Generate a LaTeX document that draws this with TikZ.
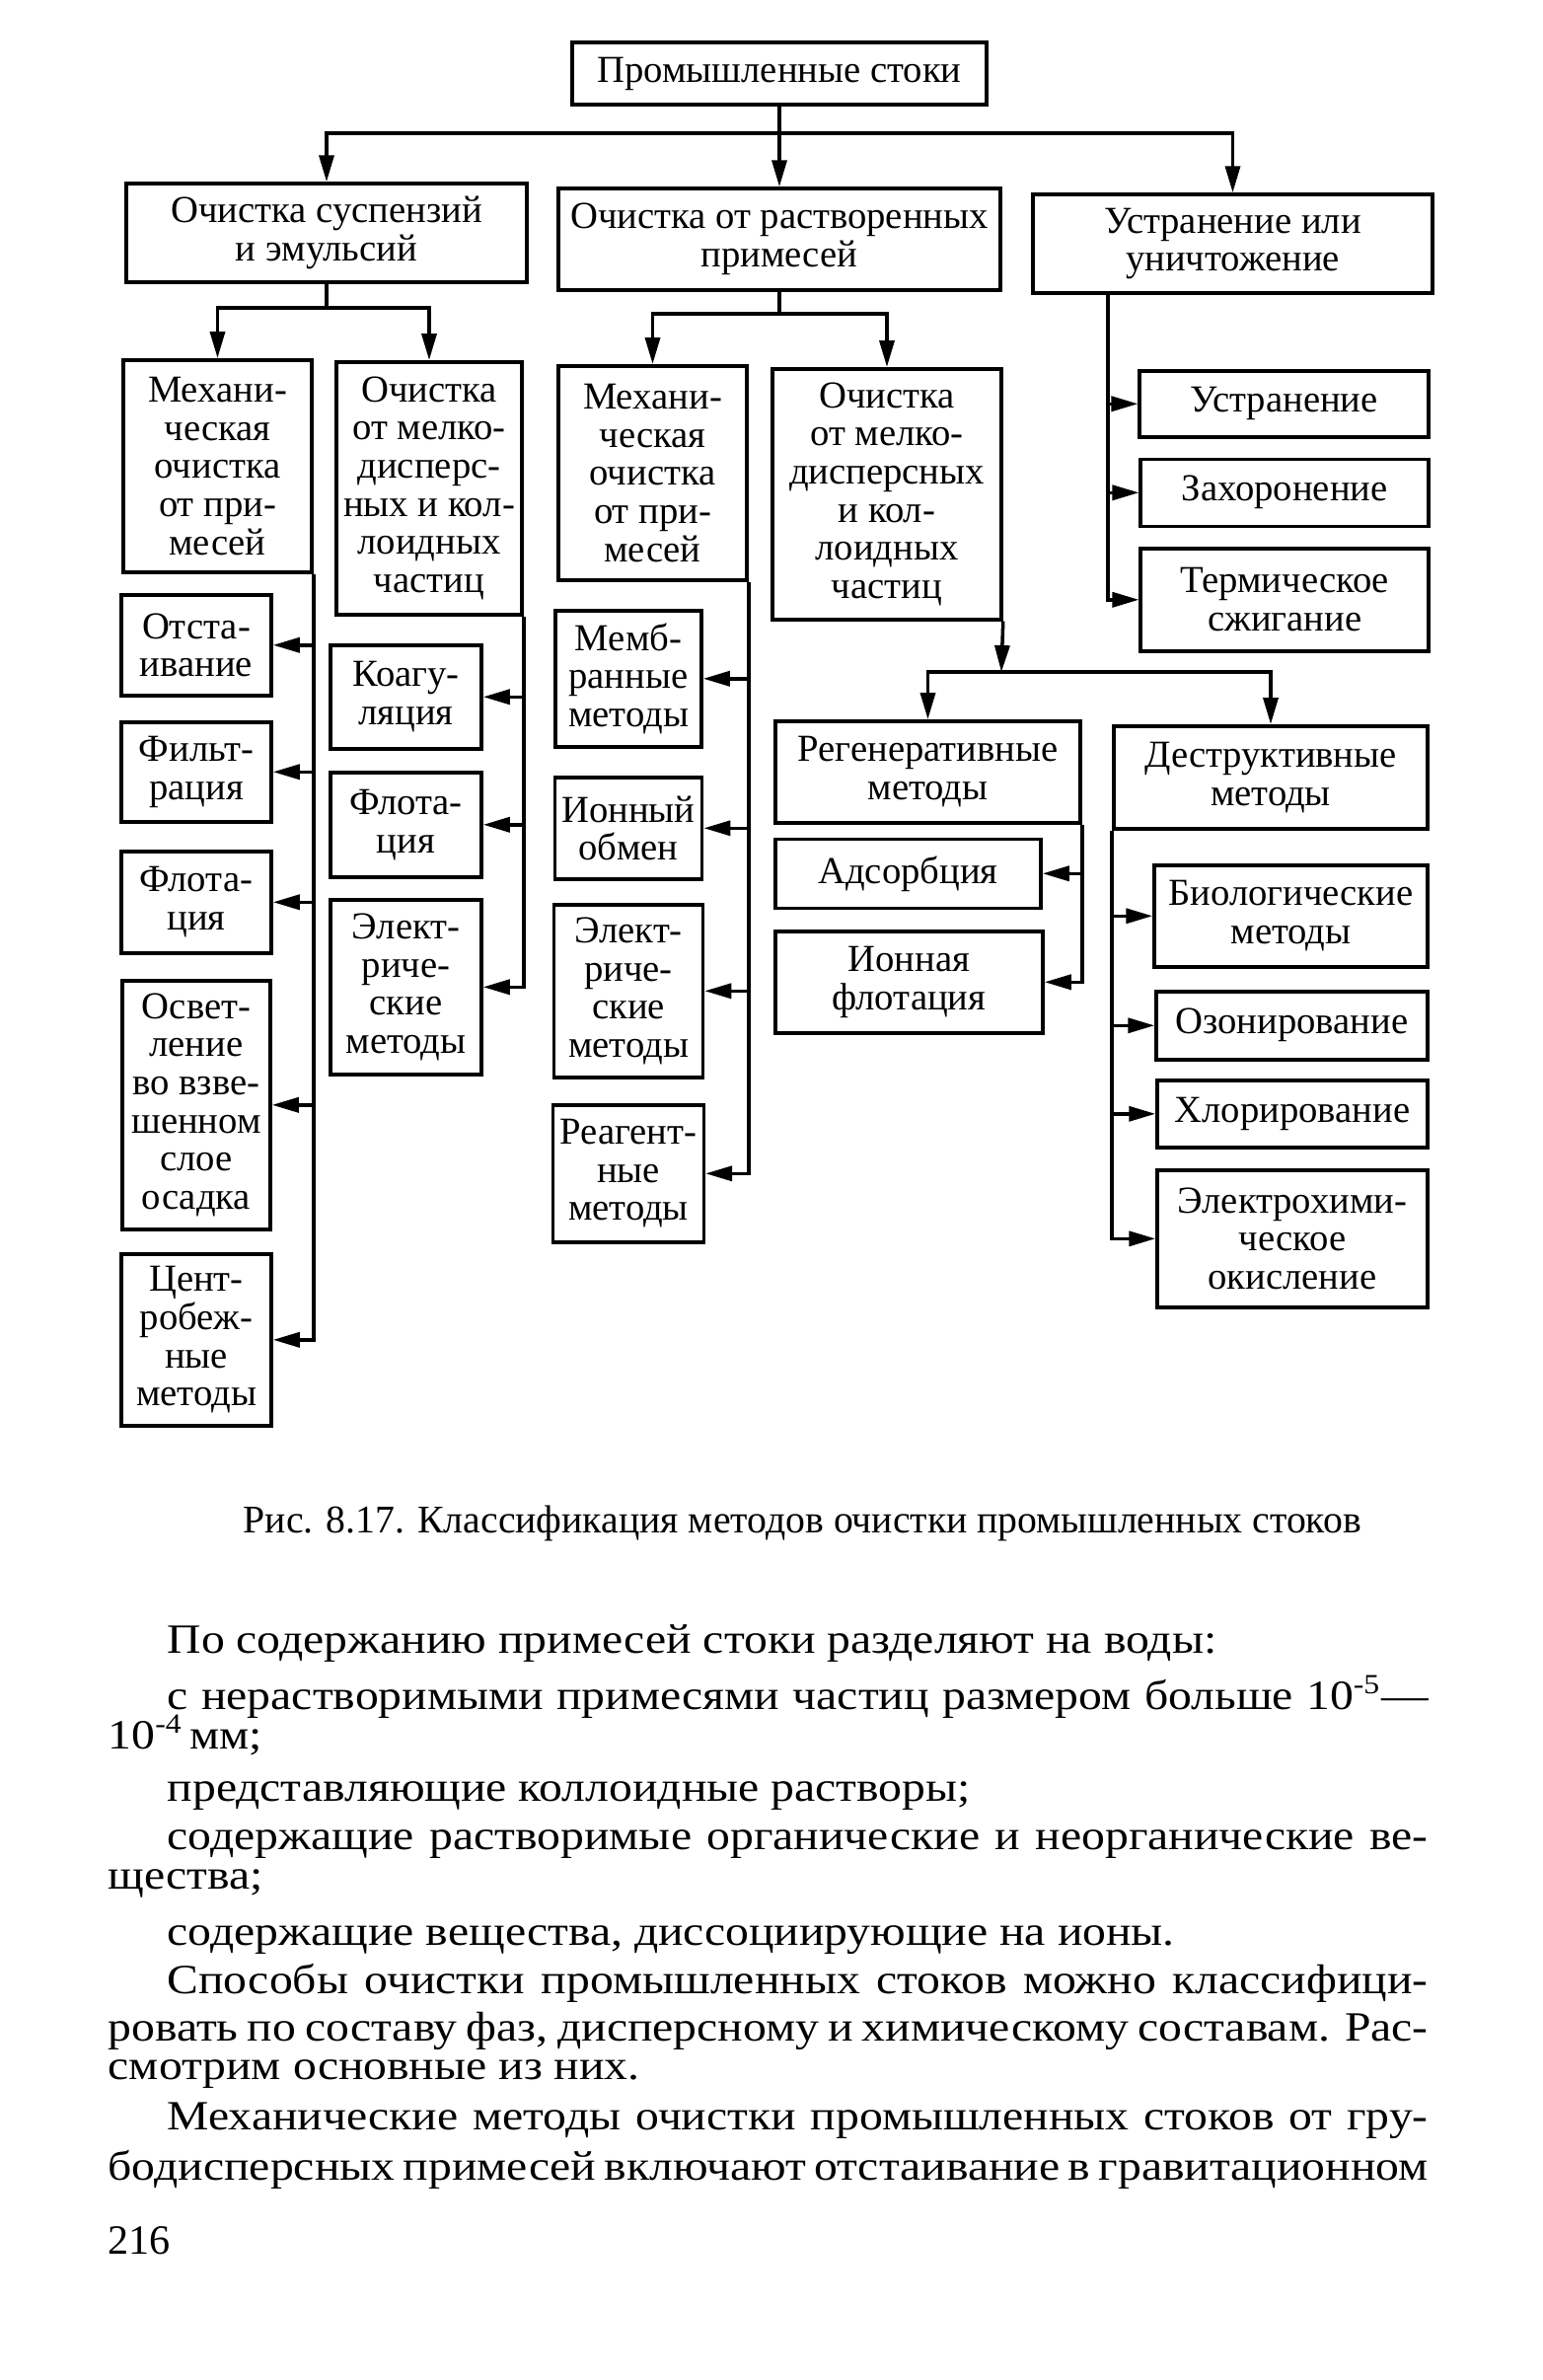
\documentclass[tikz,border=0pt]{standalone}
\usepackage{fontspec}
\setmainfont{Liberation Serif}
\newfontfamily\widefam{Liberation Serif}[FakeStretch=1.13]
\usetikzlibrary{positioning,arrows.meta}
\newcommand{\diagfont}{\fontsize{11}{11}\selectfont}
\newcommand{\capfont}{\fontsize{11.3}{13}\selectfont}
\newcommand{\bodyfont}{\widefam\fontsize{12}{14}\selectfont}
\newcommand{\fline}[1]{\makebox[13.38cm][s]{#1}}
\newcommand{\iline}[1]{\makebox[12.78cm][s]{#1}}

\begin{document}
\begin{tikzpicture}[box/.style={draw,line width=1pt,align=center,inner xsep=2pt,inner ysep=1pt,font=\diagfont},
	link/.style={line width=1pt},
	txt/.style={anchor=base west,inner sep=0pt,font=\bodyfont},
	>={Triangle[length=2.7mm,width=1.5mm]}]
		\useasboundingbox (0,0) rectangle (15.64,-24.12);
		% top levels
		\node(top) [box,minimum width=4.2cm,minimum height=0.63cm] at (7.90,-0.745) {Промышленные стоки};
		\node(susp) [box,minimum width=4.06cm,minimum height=1.0cm] at (3.31,-2.36) {Очистка суспензий\\и эмульсий};
		\node(rastv) [box,minimum width=4.48cm,minimum height=1.03cm] at (7.90,-2.425) {Очистка от растворенных\\примесей};
		\node(ustr) [box,minimum width=4.05cm,minimum height=1.0cm] at (12.495,-2.47) {Устранение или\\уничтожение};

		\node(mechA) [box,anchor=north,minimum width=1.91cm,minimum height=2.15cm] at (2.205,-3.63) {Механи-\\ческая\\очистка\\от при-\\месей};
		\node(kollA) [box,anchor=north,minimum width=1.88cm,minimum height=2.56cm] at (4.35,-3.65) {Очистка\\от мелко-\\дисперс-\\ных и кол-\\лоидных\\частиц};
		\node(mechB) [box,anchor=north,minimum width=1.91cm,minimum height=2.17cm] at (6.615,-3.69) {Механи-\\ческая\\очистка\\от при-\\месей};
		\node(kollB) [box,anchor=north,minimum width=2.32cm,minimum height=2.54cm] at (8.99,-3.72) {Очистка\\от мелко-\\дисперсных\\и кол-\\лоидных\\частиц};

		% removal branch
		\node(ustr1) [box,anchor=north east,minimum width=2.93cm,minimum height=0.67cm] at (14.50,-3.74) {Устранение};
		\node(zahor) [box,below=0.19 of ustr1.south east,anchor=north east,minimum width=2.92cm,minimum height=0.68cm] {Захоронение};
		\node(term) [box,below=0.19 of zahor.south east,anchor=north east,minimum width=2.92cm,minimum height=1.04cm] {Термическое\\сжигание};

		% mechanical, suspensions
		\node(otst) [box,anchor=north,minimum width=1.52cm,minimum height=1.02cm] at (1.99,-6.01) {Отста-\\ивание};
		\node(filt) [box,below=0.235 of otst,minimum width=1.52cm,minimum height=1.01cm] {Фильт-\\рация};
		\node(flotA) [box,below=0.265 of filt,minimum width=1.52cm,minimum height=1.03cm] {Флота-\\ция};
		\node(osvet) [box,below=0.245 of flotA,minimum width=1.50cm,minimum height=2.52cm] {Освет-\\ление\\во взве-\\шенном\\слое\\осадка};
		\node(centr) [box,below=0.215 of osvet,minimum width=1.52cm,minimum height=1.74cm] {Цент-\\робеж-\\ные\\методы};

		% colloids, suspensions
		\node(koag) [box,anchor=north,minimum width=1.53cm,minimum height=1.05cm] at (4.115,-6.52) {Коагу-\\ляция};
		\node(flotB) [box,below=0.205 of koag,minimum width=1.53cm,minimum height=1.06cm] {Флота-\\ция};
		\node(elA) [box,below=0.195 of flotB,minimum width=1.53cm,minimum height=1.77cm] {Элект-\\риче-\\ские\\методы};

		% mechanical, dissolved
		\node(memb) [box,anchor=north,minimum width=1.48cm,minimum height=1.38cm] at (6.37,-6.17) {Мемб-\\ранные\\методы};
		\node(ion) [box,below=0.275 of memb,minimum width=1.49cm,minimum height=1.03cm] {Ионный\\обмен};
		\node(elB) [box,below=0.225 of ion,minimum width=1.51cm,minimum height=1.75cm] {Элект-\\риче-\\ские\\методы};
		\node(reag) [box,below=0.245 of elB,minimum width=1.51cm,minimum height=1.39cm] {Реагент-\\ные\\методы};

		% colloids, dissolved
		\node(regen) [box,anchor=north,minimum width=3.09cm,minimum height=1.03cm] at (9.405,-7.29) {Регенеративные\\методы};
		\node(adsorb) [box,below=0.13 of regen.south west,anchor=north west,minimum width=2.69cm,minimum height=0.70cm] {Адсорбция};
		\node(ionfl) [box,below=0.20 of adsorb.south west,anchor=north west,minimum width=2.71cm,minimum height=1.03cm] {Ионная\\флотация};
		\node(destr) [box,anchor=north,minimum width=3.18cm,minimum height=1.04cm] at (12.88,-7.34) {Деструктивные\\методы};
		\node(bio) [box,below=0.335 of destr.south east,anchor=north east,minimum width=2.77cm,minimum height=1.03cm] {Биологические\\методы};
		\node(ozon) [box,below=0.215 of bio.south east,anchor=north east,minimum width=2.75cm,minimum height=0.69cm] {Озонирование};
		\node(chlor) [box,below=0.175 of ozon.south east,anchor=north east,minimum width=2.74cm,minimum height=0.68cm] {Хлорирование};
		\node(echem) [box,below=0.195 of chlor.south east,anchor=north east,minimum width=2.74cm,minimum height=1.39cm] {Электрохими-\\ческое\\окисление};

		% buses
		\coordinate (busT) at (7.90,-1.35);
		\coordinate (busA) at (3.31,-3.12);
		\coordinate (busB) at (7.90,-3.18);
		\coordinate (busC) at (11.23,-2.97);
		\coordinate (busR) at (10.15,-6.81);

		\draw[link] (top) -- (busT);
		\draw[link,->] (busT) -| (susp.north);
		\draw[link,->] (busT) -- (rastv.north);
		\draw[link,->] (busT) -| (ustr.north);

		\draw[link] (susp.south) -- (busA);
		\draw[link,->] (busA) -| (mechA.north);
		\draw[link,->] (busA) -| (kollA.north);
		\draw[link] (rastv.south) -- (busB);
		\draw[link,->] (busB) -| (mechB.north);
		\draw[link,->] (busB) -| (kollB.north);

		\draw[link,->] (busC) |- (term.west);
		\draw[link,->] (busC |- ustr1.west) -- (ustr1.west);
		\draw[link,->] (busC |- zahor.west) -- (zahor.west);

		\draw[link,->] (mechA.south east) |- (centr.east);
		\draw[link,->] (mechA.south east |- otst.east) -- (otst.east);
		\draw[link,->] (mechA.south east |- filt.east) -- (filt.east);
		\draw[link,->] (mechA.south east |- flotA.east) -- (flotA.east);
		\draw[link,->] (mechA.south east |- osvet.east) -- (osvet.east);

		\draw[link,->] (kollA.south east) |- (elA.east);
		\draw[link,->] (kollA.south east |- koag.east) -- (koag.east);
		\draw[link,->] (kollA.south east |- flotB.east) -- (flotB.east);

		\draw[link,->] (mechB.south east) |- (reag.east);
		\draw[link,->] (mechB.south east |- memb.east) -- (memb.east);
		\draw[link,->] (mechB.south east |- ion.east) -- (ion.east);
		\draw[link,->] (mechB.south east |- elB.east) -- (elB.east);

		\draw[link,->] (kollB.south east) -- (busR);
		\draw[link,->] (busR) -| (regen.north);
		\draw[link,->] (busR) -| (destr.north);

		\draw[link,->] (regen.south east) |- (ionfl.east);
		\draw[link,->] (regen.south east |- adsorb.east) -- (adsorb.east);

		\draw[link,->] (destr.south west) |- (echem.west);
		\draw[link,->] (destr.south west |- bio.west) -- (bio.west);
		\draw[link,->] (destr.south west |- ozon.west) -- (ozon.west);
		\draw[link,->] (destr.south west |- chlor.west) -- (chlor.west);

		% caption and text
		\node(cap) [anchor=base west,inner sep=0pt,font=\capfont] at (2.46,-15.53) {Рис. 8.17. Классификация методов очистки промышленных стоков};
		\node(l1) [txt] at (1.69,-16.75) {По содержанию примесей стоки разделяют на воды:};
		\node(l2) [txt] at (1.69,-17.32) {\iline{с нерастворимыми примесями частиц размером больше 10\textsuperscript{-5}—}};
		\node(l3) [txt] at (1.09,-17.72) {10\textsuperscript{-4}\,мм;};
		\node(l4) [txt] at (1.69,-18.25) {представляющие коллоидные растворы;};
		\node(l5) [txt] at (1.69,-18.74) {\iline{содержащие растворимые органические и неорганические ве-}};
		\node(l6) [txt] at (1.09,-19.14) {щества;};
		\node(l7) [txt] at (1.69,-19.71) {содержащие вещества, диссоциирующие на ионы.};
		\node(l8) [txt] at (1.69,-20.20) {\iline{Способы очистки промышленных стоков можно классифици-}};
		\node(l9) [txt] at (1.09,-20.68) {\fline{ровать по составу фаз, дисперсному и химическому составам. Рас-}};
		\node(l10) [txt] at (1.09,-21.07) {смотрим основные из них.};
		\node(l11) [txt] at (1.69,-21.58) {\iline{Механические методы очистки промышленных стоков от гру-}};
		\node(l12) [txt] at (1.09,-22.09) {\fline{бодисперсных примесей включают отстаивание в гравитационном}};
		\node(page) [anchor=base west,inner sep=0pt,font=\fontsize{12}{14}\selectfont] at (1.09,-22.84) {216};
\end{tikzpicture}
\end{document}
